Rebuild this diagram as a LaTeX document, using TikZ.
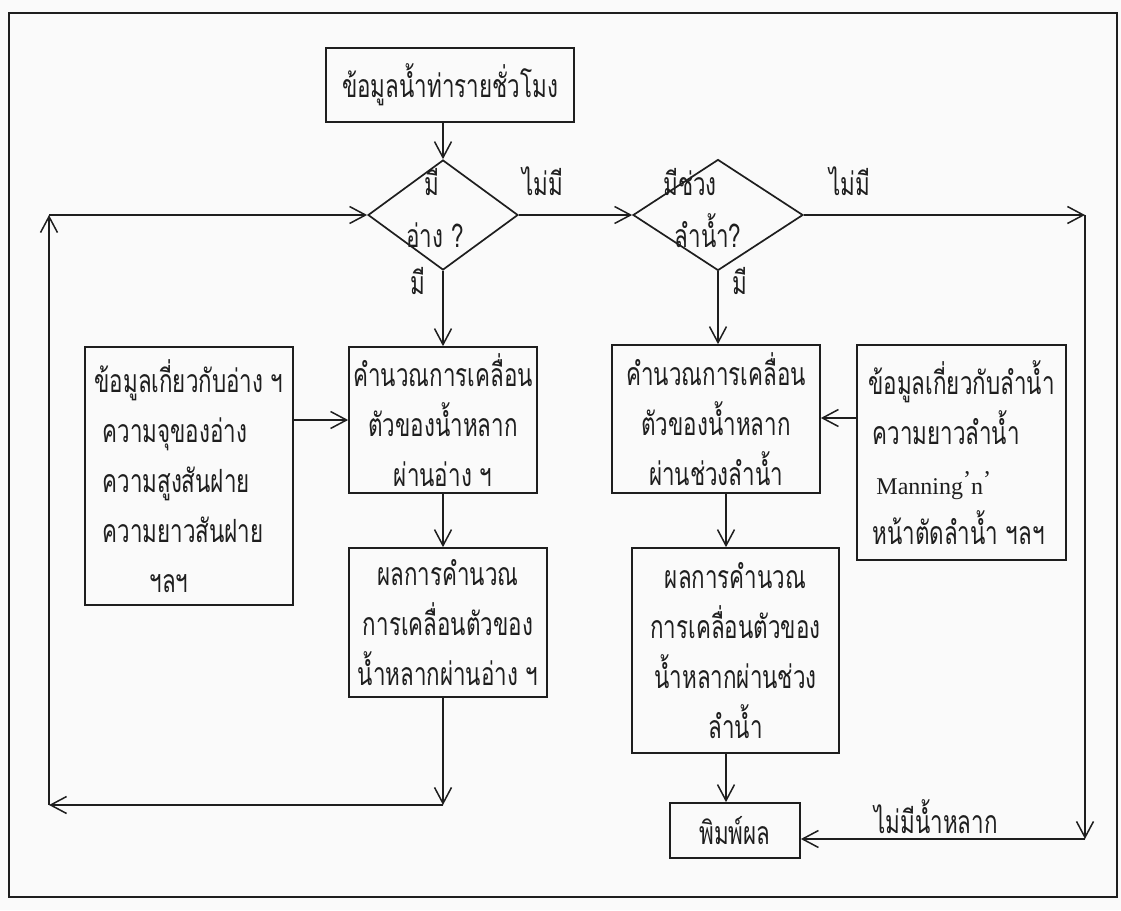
\documentclass[tikz,border=0pt]{standalone}
\usepackage{fontspec}
\setmainfont{Liberation Serif}
\newfontfamily\thaifont[Script=Thai,FakeStretch=0.7]{Loma}
\usetikzlibrary{arrows.meta,shapes.geometric}
\definecolor{ink}{RGB}{30,30,30}
\definecolor{paper}{RGB}{250,250,250}
\tikzset{
  ln/.style={line width=1.7pt, draw=ink},
  arr/.style={ln, -{Straight Barb[length=16pt,width=17pt,line width=1.5pt]}},
  thai/.style={font=\thaifont\fontsize{32}{50}\selectfont, text=ink},
  box/.style={ln, thai, rectangle, inner sep=0pt, align=center},
  dec/.style={ln, diamond, inner sep=0pt},
  lbl/.style={thai, inner sep=0pt, text height=14pt, text depth=0pt},
}
\begin{document}
\begin{tikzpicture}[x=1pt,y=-1pt]
\useasboundingbox[fill=paper] (0,0) rectangle (1121,910);
\draw[ln] (9,13) rectangle (1117,897);

% nodes
\node[box, minimum width=248pt, minimum height=74pt] (top) at (450,85) {ข้อมูลน้ำท่ารายชั่วโมง};
\node[dec, minimum width=150pt, minimum height=110pt] (d1) at (443,215) {};
\node[lbl] (d1a) at (432,188) {มี};
\node[lbl] (d1b) at (435,240) {อ่าง ?};
\node[dec, minimum width=170pt, minimum height=111pt] (d2) at (718,215) {};
\node[lbl] (d2a) at (690,188) {มีช่วง};
\node[lbl] (d2b) at (708,240) {ลำน้ำ?};

\node[box, minimum width=208pt, minimum height=258pt, align=left] (info1) at (189,476)
  {ข้อมูลเกี่ยวกับอ่าง ฯ\\\hspace*{8pt}ความจุของอ่าง\\\hspace*{8pt}ความสูงสันฝาย\\\hspace*{8pt}ความยาวสันฝาย\\\hspace*{55pt}ฯลฯ};
\node[box, minimum width=188pt, minimum height=146pt] (c1) at (443,420)
  {คำนวณการเคลื่อน\\ตัวของน้ำหลาก\\ผ่านอ่าง ฯ};
\node[box, minimum width=198pt, minimum height=149pt] (r1) at (448,622.5)
  {ผลการคำนวณ\\การเคลื่อนตัวของ\\น้ำหลากผ่านอ่าง ฯ};
\node[box, minimum width=208pt, minimum height=148pt] (c2) at (716,419)
  {คำนวณการเคลื่อน\\ตัวของน้ำหลาก\\ผ่านช่วงลำน้ำ};
\node[box, minimum width=209pt, minimum height=215pt, align=left] (info2) at (961.5,452.5)
  {ข้อมูลเกี่ยวกับลำน้ำ\\\hspace*{4pt}ความยาวลำน้ำ\\\hspace*{8pt}{\rmfamily\fontsize{24}{50}\selectfont Manning\raisebox{7pt}{\textquoteright}n\raisebox{7pt}{\textquoteright}}\\\hspace*{4pt}หน้าตัดลำน้ำ ฯลฯ};
\node[box, minimum width=207pt, minimum height=205pt] (r2) at (735.5,650.5)
  {ผลการคำนวณ\\การเคลื่อนตัวของ\\น้ำหลากผ่านช่วง\\ลำน้ำ};
\node[box, minimum width=130pt, minimum height=55pt] (pr) at (735,830.5) {พิมพ์ผล};

% labels
\node[lbl] (l1) at (543,188) {ไม่มี};
\node[lbl] (l2) at (418,287) {มี};
\node[lbl] (l3) at (740,287) {มี};
\node[lbl] (l4) at (850,188) {ไม่มี};
\node[lbl] (l5) at (936,826) {ไม่มีน้ำหลาก};

% helper coordinates
\coordinate (lb) at (443,805);
\coordinate (ll) at (49,805);
\coordinate (lt) at (49,215);
\coordinate (rt) at (1085,215);
\coordinate (rb) at (1085,839);
\coordinate (rx) at (726,0);
\coordinate (ya) at (0,418);

% connectors
\draw[arr] (top.south -| d1.north) -- (d1.north);
\draw[arr] (d1.east) -- (d2.west);
\draw[arr] (d1.south) -- (d1.south |- c1.north);
\draw[arr] (c1.south) -- (c1.south |- r1.north);
\draw[arr] (info1.east |- c1.west) -- (c1.west);
\draw[arr] (r1.south -| lb) -- (lb);
\draw[arr] (lb) -- (ll);
\draw[arr] (ll) -- (lt);
\draw[arr] (lt) -- (d1.west);
\draw[arr] (d2.south) -- (d2.south |- c2.north);
\draw[arr] (c2.south -| rx) -- (r2.north -| rx);
\draw[arr] (r2.south -| rx) -- (pr.north -| rx);
\draw[arr] (info2.west |- ya) -- (c2.east |- ya);
\draw[arr] (d2.east) -- (rt);
\draw[arr] (rt) -- (rb);
\draw[arr] (rb) -- (pr.east |- rb);
\end{tikzpicture}
\end{document}
